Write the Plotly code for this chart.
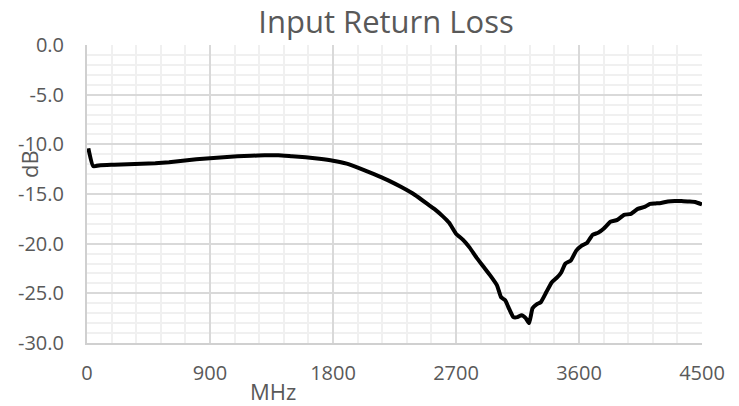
import plotly.graph_objects as go

freq_mhz = [10, 45, 100, 200, 300, 400, 500, 600, 700, 800, 900, 1000, 1100, 1200,
            1300, 1400, 1500, 1600, 1700, 1800, 1900, 2000, 2100, 2200, 2300, 2400,
            2500, 2550, 2600, 2650, 2700, 2750, 2800, 2850, 2900, 2950, 3000, 3030,
            3060, 3090, 3120, 3150, 3180, 3210, 3235, 3260, 3290, 3320, 3360, 3400,
            3440, 3470, 3500, 3540, 3580, 3620, 3660, 3700, 3740, 3780, 3830, 3880,
            3930, 3980, 4030, 4080, 4120, 4160, 4200, 4250, 4300, 4350, 4400, 4450, 4500]
return_loss_db = [-10.4, -12.2, -12.1, -12.05, -12.0, -11.95, -11.9, -11.8, -11.65, -11.5,
                  -11.4, -11.3, -11.2, -11.15, -11.1, -11.1, -11.2, -11.3, -11.45, -11.65,
                  -11.95, -12.45, -13.0, -13.6, -14.3, -15.1, -16.1, -16.6, -17.2, -17.9,
                  -19.0, -19.6, -20.4, -21.4, -22.3, -23.2, -24.2, -25.4, -25.7, -26.6,
                  -27.4, -27.4, -27.2, -27.5, -28.0, -26.5, -26.1, -25.9, -24.9, -23.9,
                  -23.4, -22.9, -22.0, -21.7, -20.7, -20.2, -19.9, -19.1, -18.9, -18.5,
                  -17.8, -17.6, -17.1, -17.0, -16.5, -16.3, -16.0, -15.95, -15.9, -15.75,
                  -15.7, -15.7, -15.75, -15.8, -16.05]

x_ticks = [0, 900, 1800, 2700, 3600, 4500]
y_ticks = [0, -5, -10, -15, -20, -25, -30]
y_tick_labels = ["0.0", "-5.0", "-10.0", "-15.0", "-20.0", "-25.0", "-30.0"]

W, H = 739, 406
L, R, T, B = 87, 37, 45, 63
px_w = W - L - R
px_h = H - T - B

fig = go.Figure()
fig.add_trace(go.Scatter(
    x=freq_mhz, y=return_loss_db, mode="lines",
    line=dict(color="black", width=4, shape="spline", smoothing=0.4),
    showlegend=False, hoverinfo="x+y"))

tick_font = dict(family="Open Sans", size=20, color="#595959")

fig.update_layout(
    width=W, height=H,
    margin=dict(l=L, r=R, t=T, b=B, pad=0, autoexpand=False),
    paper_bgcolor="white", plot_bgcolor="white",
    title=dict(text="Input Return Loss", x=386 / W, xref="container", xanchor="center",
               y=1 - 22 / H, yref="container", yanchor="middle",
               font=dict(family="Open Sans", size=31, color="#595959")),
    xaxis=dict(range=[0, 4500], tickvals=x_ticks, ticktext=[str(v) for v in x_ticks],
               showgrid=True, gridcolor="#d9d9d9", gridwidth=1.5,
               minor=dict(dtick=180, showgrid=True, gridcolor="#f0f0f0", gridwidth=1.5),
               showline=True, linecolor="#d0d0d0", linewidth=2,
               ticks="", tickfont=tick_font, ticklabelstandoff=11,
               zeroline=False, mirror=False, fixedrange=True),
    yaxis=dict(range=[-30, 0], tickvals=y_ticks, ticktext=y_tick_labels,
               showgrid=True, gridcolor="#d9d9d9", gridwidth=1.5,
               minor=dict(dtick=1, showgrid=True, gridcolor="#f0f0f0", gridwidth=1.5),
               showline=True, linecolor="#d0d0d0", linewidth=2,
               ticks="", tickfont=tick_font, ticklabelstandoff=17,
               zeroline=False, fixedrange=True),
    annotations=[
        dict(text="MHz", x=(272.5 - L) / px_w, y=(H - B - 391) / px_h,
             xref="paper", yref="paper",
             showarrow=False, xanchor="center", yanchor="middle",
             font=dict(family="Open Sans", size=22, color="#595959")),
        dict(text="dB", x=(29 - L) / px_w, y=(H - B - 164) / px_h,
             xref="paper", yref="paper",
             showarrow=False, xanchor="center", yanchor="middle", textangle=-90,
             font=dict(family="Open Sans", size=22, color="#595959")),
    ],
)

fig.write_html("out.html", config={"displayModeBar": False},
               post_script="document.body.style.margin='0';document.body.style.padding='0';")
